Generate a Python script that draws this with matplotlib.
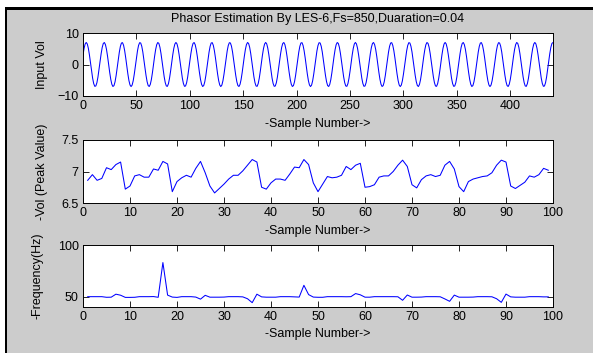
import numpy as np
import matplotlib
matplotlib.use("Agg")
import matplotlib.pyplot as plt
from matplotlib.patches import Rectangle

# input voltage, one 84-sample block (5 cycles, ~16.8 samples per cycle), repeats
vin_block = [3.00, 5.11, 6.50, 7.00, 6.53, 5.16, 3.07, 0.56, -2.03, -4.33,
             -6.04, -6.92, -6.83, -5.80, -3.97, -1.59, 1.01, 3.47, 5.45, 6.68,
             6.98, 6.32, 4.79, 2.59, 0.04, -2.52, -4.73, -6.29, -6.98, -6.70,
             -5.50, -3.53, -1.08, 1.52, 3.91, 5.76, 6.82, 6.93, 6.08, 4.39,
             2.10, -0.48, -3.00, -5.11, -6.50, -7.00, -6.53, -5.16, -3.07, -0.56,
             2.03, 4.33, 6.04, 6.92, 6.83, 5.80, 3.97, 1.59, -1.01, -3.47,
             -5.45, -6.68, -6.98, -6.32, -4.79, -2.59, -0.04, 2.52, 4.73, 6.29,
             6.98, 6.70, 5.50, 3.53, 1.08, -1.52, -3.91, -5.76, -6.82, -6.93,
             -6.08, -4.39, -2.10, 0.48]
n_samples = 441

# estimated peak value, samples 1..99
vpeak = [6.86, 6.95, 6.86, 6.89, 7.06, 7.03, 7.11, 7.15, 6.72, 6.77,
         6.93, 6.95, 6.91, 6.91, 7.04, 7.02, 7.16, 7.12, 6.68, 6.84,
         6.90, 6.94, 6.91, 7.05, 7.16, 6.98, 6.77, 6.66, 6.73, 6.80,
         6.88, 6.94, 6.94, 7.01, 7.10, 7.19, 7.15, 6.75, 6.72, 6.82,
         6.88, 6.88, 6.86, 6.96, 7.07, 7.06, 7.19, 7.11, 6.82, 6.68,
         6.80, 6.92, 6.90, 6.91, 6.94, 7.08, 7.03, 7.10, 7.13, 6.75,
         6.76, 6.79, 6.91, 6.93, 6.93, 7.00, 7.10, 7.18, 7.08, 6.79,
         6.74, 6.87, 6.93, 6.95, 6.92, 6.94, 7.10, 7.16, 7.04, 6.76,
         6.68, 6.84, 6.88, 6.90, 6.92, 6.93, 6.98, 7.10, 7.18, 7.15,
         6.77, 6.73, 6.78, 6.83, 6.93, 6.91, 6.95, 7.05, 7.02]

# estimated frequency (Hz), samples 1..99
freq = [50.0, 50.0, 50.0, 50.0, 49.4, 49.5, 52.4, 51.4, 49.3, 49.3,
        49.4, 50.0, 50.0, 50.0, 50.1, 49.4, 83.0, 51.5, 49.6, 49.3,
        50.0, 50.0, 50.0, 49.6, 47.6, 51.3, 49.5, 49.5, 49.5, 49.6,
        50.0, 50.0, 50.0, 49.8, 48.0, 44.2, 52.4, 49.8, 49.5, 49.5,
        49.5, 50.0, 50.0, 50.0, 49.8, 49.6, 61.0, 52.0, 49.6, 49.4,
        49.4, 50.0, 50.0, 50.0, 50.0, 49.9, 50.0, 53.0, 51.8, 49.5,
        49.5, 50.0, 50.0, 50.0, 50.0, 50.0, 49.9, 46.5, 51.6, 49.5,
        49.5, 49.6, 50.0, 50.0, 50.0, 49.9, 47.8, 45.5, 51.5, 49.5,
        49.5, 49.5, 49.6, 50.0, 50.0, 50.0, 49.9, 48.0, 44.5, 52.5,
        49.8, 49.5, 49.5, 49.5, 50.0, 50.0, 50.0, 49.8, 49.8]

title = "Phasor Estimation By LES-6,Fs=850,Duaration=0.04"
xlabel = "-Sample Number->"

vin = np.tile(vin_block, n_samples // len(vin_block) + 1)[:n_samples]
vin_x = np.arange(n_samples)
n_x = np.arange(1, len(vpeak) + 1)

plt.rcParams['font.family'] = ['Liberation Sans', 'DejaVu Sans']
plt.rcParams['font.size'] = 9

W, H = 593, 353
fig = plt.figure(figsize=(W / 100, H / 100), dpi=100, facecolor='white')
# window frame: black edge at left/top, grey panel
fig.patches.append(Rectangle((5 / W, 0), 1, (H - 7) / H, transform=fig.transFigure,
                             facecolor='black', edgecolor='none', zorder=-2))
fig.patches.append(Rectangle((7 / W, 0), 1, (H - 10) / H, transform=fig.transFigure,
                             facecolor='#cccccc', edgecolor='none', zorder=-1))


def box(top, bottom):
    return [83 / W, (H - bottom) / H, 470 / W, (bottom - top) / H]


def style(ax, ylab, ylab_x):
    ax.tick_params(direction='in', top=True, right=True, length=4, width=0.6,
                   pad=3, labelsize=9, colors='black')
    for s in ax.spines.values():
        s.set_linewidth(0.7)
        s.set_color('black')
    ax.set_xlabel(xlabel)
    ax.xaxis.set_label_coords(0.5, -0.44)
    ax.xaxis.label.set_va('center')
    ax.set_ylabel(ylab)
    ax.yaxis.set_label_coords(ylab_x, 0.5)
    ax.yaxis.label.set_va('center')


ax1 = fig.add_axes(box(33, 96))
ax1.plot(vin_x, vin, color='blue', lw=0.75)
ax1.set_xlim(0, 440)
ax1.set_ylim(-10, 10)
ax1.set_xticks(range(0, 401, 50))
ax1.set_yticks([-10, 0, 10])
style(ax1, "Input Vol", (42 - 83) / 470)

ax2 = fig.add_axes(box(140, 203))
ax2.plot(n_x, vpeak, color='blue', lw=0.75)
ax2.set_xlim(0, 100)
ax2.set_ylim(6.5, 7.5)
ax2.set_xticks(range(0, 101, 10))
ax2.set_yticks([6.5, 7, 7.5])
ax2.set_yticklabels(['6.5', '7', '7.5'])
style(ax2, "-Vol (Peak Value)", (42 - 83) / 470)

ax3 = fig.add_axes(box(245, 307))
ax3.plot(n_x, freq, color='blue', lw=0.75)
ax3.set_xlim(0, 100)
ax3.set_ylim(40, 100)
ax3.set_xticks(range(0, 101, 10))
ax3.set_yticks([50, 100])
style(ax3, "-Frequency(Hz)", (38 - 83) / 470)

fig.text(318 / W, 1 - 19.3 / H, title, ha='center', va='center')

fig.savefig("out.png", dpi=100, facecolor=fig.get_facecolor())
